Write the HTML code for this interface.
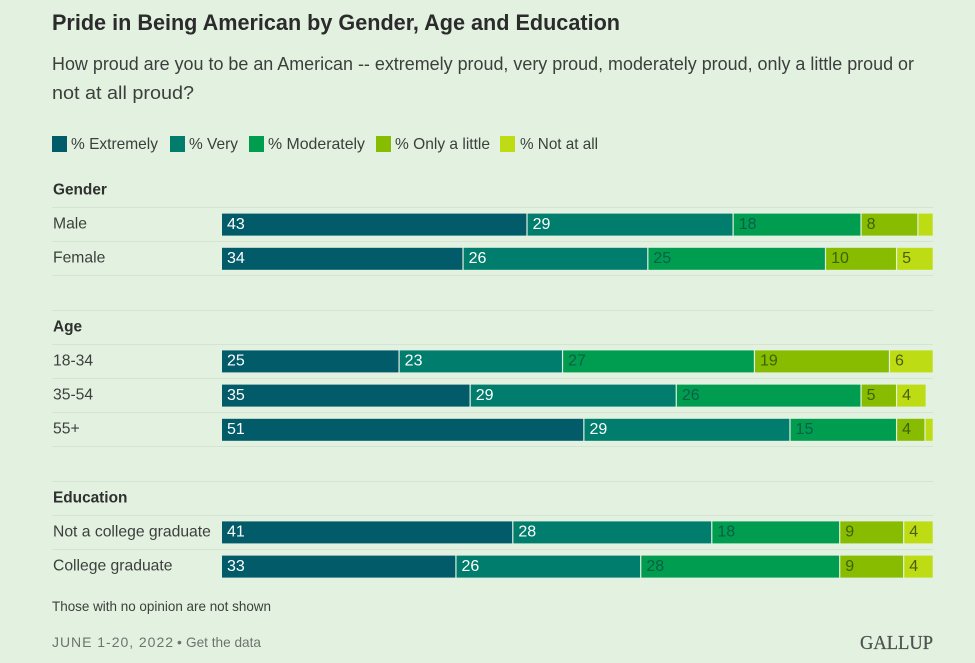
<!DOCTYPE html>
<html lang="en">
<head>
<meta charset="utf-8">
<title>Pride in Being American by Gender, Age and Education</title>
<style>
html,body{margin:0;padding:0;background:#e3f1e1;}
svg{display:block;font-family:"Liberation Sans",Arial,sans-serif;}
</style>
</head>
<body>
<svg id="chart" width="975" height="663" viewBox="0 0 975 663" xmlns="http://www.w3.org/2000/svg">
  <rect x="0" y="0" width="975" height="663" fill="#e3f1e1"/>
  <text x="52" y="30" font-size="22" font-weight="700" fill="#2b2b2b" textLength="568" lengthAdjust="spacingAndGlyphs">Pride in Being American by Gender, Age and Education</text>
  <text x="52" y="70" font-size="18" fill="#3c3f3c" textLength="862" lengthAdjust="spacingAndGlyphs">How proud are you to be an American -- extremely proud, very proud, moderately proud, only a little proud or</text>
  <text x="52" y="99" font-size="18" fill="#3c3f3c" textLength="142" lengthAdjust="spacingAndGlyphs">not at all proud?</text>
  <g id="rules"></g>
  <g id="legend"></g>
  <g id="rows"></g>
  <text x="52" y="611" font-size="14" fill="#3c3f3c" textLength="219" lengthAdjust="spacingAndGlyphs">Those with no opinion are not shown</text>
  <text x="52" y="647" font-size="14" fill="#6e736e" textLength="121" lengthAdjust="spacing">JUNE 1-20, 2022</text>
  <text x="177" y="647" font-size="14" fill="#6e736e">•</text>
  <text x="186" y="647" font-size="14" fill="#6e736e" textLength="75" lengthAdjust="spacingAndGlyphs">Get the data</text>
  <text x="860" y="649" font-family="'Liberation Serif',serif" font-size="20" fill="#4f5250" stroke="#4f5250" stroke-width="0.25" textLength="73" lengthAdjust="spacingAndGlyphs">GALLUP</text>
</svg>
<script>
// Chart data
const groupNames = ['Gender', 'Age', 'Education'];
const groupCategories = [
  ['Male', 'Female'],
  ['18-34', '35-54', '55+'],
  ['Not a college graduate', 'College graduate']
];
const seriesNames = ['% Extremely', '% Very', '% Moderately', '% Only a little', '% Not at all'];
const extremely = [43, 34, 25, 35, 51, 41, 33];
const very = [29, 26, 23, 29, 29, 28, 26];
const moderately = [18, 25, 27, 26, 15, 18, 28];
const onlyALittle = [8, 10, 19, 5, 4, 9, 9];
const notAtAll = [2, 5, 6, 4, 1, 4, 4];

const seriesValues = [extremely, very, moderately, onlyALittle, notAtAll];
const seriesColors = ['#015b69', '#007d6d', '#009d50', '#87bc00', '#bddc14'];
const labelColors = ['#ffffff', '#ffffff', '#0a5f45', '#3d6208', '#4a5f0e'];
const legendSwatchX = [52, 170, 249, 376, 500];
const legendTextX = [71, 189, 268, 395, 520];
const legendTextW = [87, 49, 97, 95, 78];

const NS = 'http://www.w3.org/2000/svg';
const X0 = 222, PX_PER_UNIT = 7.107, ROW_STEP = 34.2, FIRST_RULE = 207, BAR_OFFSET = 6.6, BAR_H = 22;
const xScale = function (v) { return X0 + v * PX_PER_UNIT; };
const slotTop = function (slot) { return FIRST_RULE + slot * ROW_STEP; };

function svgEl(tag, attrs, text) {
  const el = document.createElementNS(NS, tag);
  Object.keys(attrs).forEach(function (k) { el.setAttribute(k, attrs[k]); });
  if (text !== undefined) el.textContent = text;
  return el;
}

const legend = document.getElementById('legend');
seriesNames.forEach(function (name, i) {
  const sw = svgEl('rect', { x: legendSwatchX[i], y: 136, width: 15, height: 16, fill: seriesColors[i] });
  
  
  legend.appendChild(sw);
  const t = svgEl('text', { x: legendTextX[i], y: 149, 'font-size': 16, fill: '#3c3f3c', textLength: legendTextW[i], lengthAdjust: 'spacingAndGlyphs' }, name);
  
  
  legend.appendChild(t);
});

const rules = document.getElementById('rules');
const rows = document.getElementById('rows');

function addRule(slot) {
  const y = Math.round(slotTop(slot)) + 0.5;
  const line = svgEl('line', { x1: 52, x2: 933, y1: y, y2: y, stroke: '#d5e3d3', 'stroke-width': 1 });
  
  
  rules.appendChild(line);
}

let slot = 0, rowIndex = 0;
groupNames.forEach(function (groupName, g) {
  const head = svgEl('text', { x: 53, y: slotTop(slot) - 12.5, 'font-size': 15.4, 'font-weight': 700, fill: '#2f312f' }, groupName);
  
  
  rows.appendChild(head);
  groupCategories[g].forEach(function (cat) {
    const top = slotTop(slot) + BAR_OFFSET;
    addRule(slot);
    const lab = svgEl('text', { x: 53, y: top + 14.9, 'font-size': 15.7, fill: '#3c3f3c' }, cat);
    
    
    rows.appendChild(lab);
    let cum = 0;
    seriesValues.forEach(function (vals, s) {
      const v = vals[rowIndex];
      const x1 = xScale(cum), x2 = xScale(cum + v);
      const gap = s < seriesValues.length - 1 ? 1.2 : 0;
      const bar = svgEl('rect', { x: x1, y: top, width: Math.max(0, x2 - x1 - gap), height: BAR_H, fill: seriesColors[s] });
      
      
      rows.appendChild(bar);
      if (v >= 3) {
        const val = svgEl('text', { x: x1 + 5, y: top + 15.3, 'font-size': 16, fill: labelColors[s] }, String(v));
        
        
        rows.appendChild(val);
      }
      cum += v;
    });
    rowIndex += 1;
    slot += 1;
  });
  if (g < groupNames.length - 1) {
    addRule(slot);
    addRule(slot + 1);
  }
  slot += 2;
});
</script>
</body>
</html>
